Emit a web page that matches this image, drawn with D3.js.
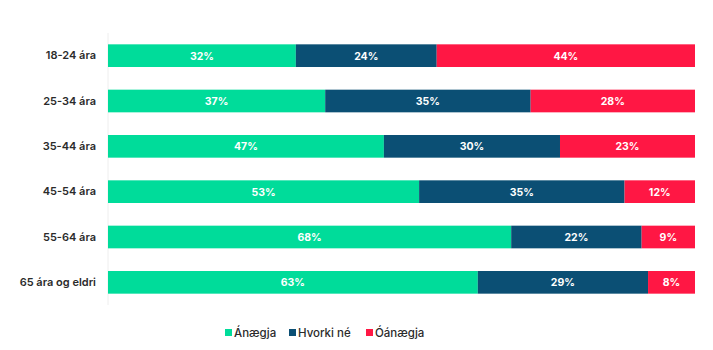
<!DOCTYPE html>
<html>
<head>
<meta charset="utf-8">
<script src="https://cdn.jsdelivr.net/npm/d3@7"></script>
<style>
  body { margin: 0; background: #fff; }
  #chart { width: 713px; height: 350px; }
  text { font-family: Inter, "Open Sans", sans-serif; }
</style>
</head>
<body>
<div id="chart"></div>
<script>
// data
const categories = ['18-24 ára', '25-34 ára', '35-44 ára', '45-54 ára', '55-64 ára', '65 ára og eldri'];
const seriesNames = ['Ánægja', 'Hvorki né', 'Óánægja'];
const anaegja = [32, 37, 47, 53, 68, 63];
const hvorki = [24, 35, 30, 35, 22, 29];
const oanaegja = [44, 28, 23, 12, 9, 8];
const colors = ['#00dc9a', '#0b4f74', '#ff1744'];

const cw = 713, ch = 350;
const margin = { top: 33, right: 18, bottom: 45, left: 108 };
const w = cw - margin.left - margin.right;
const h = ch - margin.top - margin.bottom;

const svg = d3.select('#chart').append('svg')
  .attr('width', cw).attr('height', ch)
  .append('g')
  .attr('transform', `translate(${margin.left},${margin.top})`);

const rows = categories.map((c, i) => ({ cat: c, vals: [anaegja[i], hvorki[i], oanaegja[i]] }));
// rows are shown as share of the full bar (some rows sum to 99)
const stacked = d3.stack()
  .keys([0, 1, 2])
  .value((d, k) => d.vals[k])
  .offset(d3.stackOffsetExpand)(rows);

const yScale = d3.scaleBand()
  .domain(categories)
  .range([0, h])
  .paddingInner(0.5)
  .paddingOuter(0.25);

const xScale = d3.scaleLinear().domain([0, 1]).range([0, w]);

// faint axis line
svg.append('line')
  .attr('x1', 0).attr('x2', 0)
  .attr('y1', 0).attr('y2', h)
  .attr('stroke', '#eeeeee');

// category labels
const yAxis = svg.append('g')
  .call(d3.axisLeft(yScale).tickSize(0).tickPadding(12));
yAxis.select('.domain').remove();
yAxis.selectAll('text')
  .attr('font-family', 'Inter, sans-serif')
  .attr('font-size', '11px')
  .attr('font-weight', 600)
  .attr('fill', '#2b2b2b');

// bars
stacked.forEach((layer, k) => {
  layer.forEach((d, i) => {
    const y = yScale(categories[i]);
    const x0 = xScale(d[0]), x1 = xScale(d[1]);
    svg.append('rect')
      .attr('x', x0).attr('y', y)
      .attr('width', x1 - x0).attr('height', yScale.bandwidth())
      .attr('fill', colors[k]);

    svg.append('text')
      .attr('x', (x0 + x1) / 2)
      .attr('y', y + yScale.bandwidth() / 2 + 4)
      .attr('text-anchor', 'middle')
      .attr('font-size', '10.5px')
      .attr('font-weight', 700)
      .attr('fill', '#fff')
      .text(d.data.vals[k] + '%');
  });
});

// legend
const legendX = [225, 289, 366];
const legend = d3.select('#chart svg').append('g')
  .attr('transform', 'translate(0,333)');
seriesNames.forEach((name, k) => {
  legend.append('rect')
    .attr('x', legendX[k]).attr('y', -4)
    .attr('width', 7).attr('height', 7)
    .attr('fill', colors[k]);
  legend.append('text')
    .attr('x', legendX[k] + 9).attr('y', 4)
    .attr('font-size', '11.5px')
    .attr('font-weight', 500)
    .attr('fill', '#2b2b2b')
    .text(name);
});
</script>
</body>
</html>
